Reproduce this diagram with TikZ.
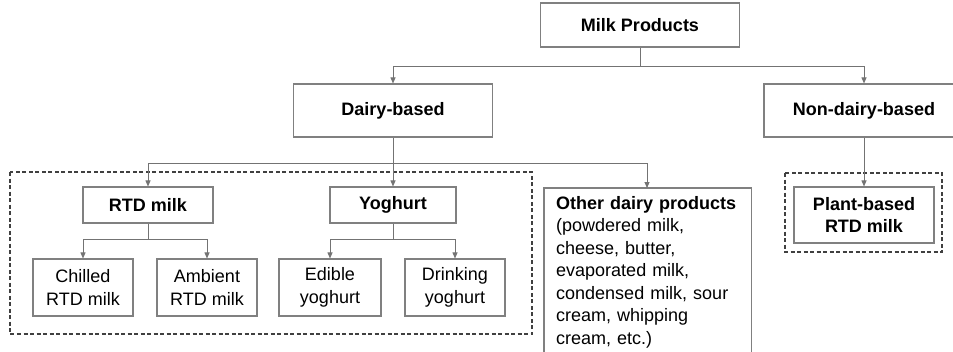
\documentclass[tikz,border=0pt]{standalone}
\usepackage{fontspec}
\setmainfont{Liberation Sans}
\usetikzlibrary{positioning,arrows.meta}

\begin{document}
\begin{tikzpicture}[
            x=1pt, y=-1pt,
            font=\fontsize{18}{22.5}\selectfont,
            frame/.style={draw=black!50,line width=1.1pt},
            box/.style={frame,align=center,inner sep=2pt},
            head box/.style={box,font=\fontsize{18}{22.5}\selectfont\bfseries},
            group/.style={draw=black!75,line width=1.2pt,dash pattern=on 4pt off 2.5pt},
            every edge/.style={draw,black!55,line width=0.9pt,-{Triangle[length=6pt,width=5pt]}},
        ]
            \useasboundingbox (0,0) rectangle (953,351);

            % top levels
            \node[head box, minimum width=199pt, minimum height=44pt] (milk) at (640,25) {Milk Products};
            \node[head box, minimum width=199pt, minimum height=53pt] (dairy) at (393,110.5) {Dairy-based};
            \node[head box, minimum width=200pt, minimum height=53pt] (nondairy) at (864,110.5) {Non-dairy-based};

            % dairy groups
            \node[head box, minimum width=130pt, minimum height=36pt] (rtd) at (148,205) {RTD milk};
            \node[head box, minimum width=126pt, minimum height=36pt] (yog) at (393,205) {Yoghurt};
            \node[anchor=north west, align=left, text width=183pt, inner xsep=12pt, inner ysep=8pt] (other) at (544,188)
                {\textbf{Other dairy products}\\(powdered milk,\\cheese, butter,\\evaporated milk,\\condensed milk, sour\\cream, whipping\\cream, etc.)};
            \draw[frame] (other.north west) rectangle ([yshift=-20pt]other.south east);

            \node[box, minimum width=100pt, minimum height=57pt] (chilled) at (83,287.5) {Chilled\\RTD milk};
            \node[box, minimum width=100pt, minimum height=57pt] (ambient) at (207,287.5) {Ambient\\RTD milk};
            \node[box, minimum width=102pt, minimum height=57pt] (edible) at (330,287.5) {Edible\\yoghurt};
            \node[box, minimum width=100pt, minimum height=57pt] (drinking) at (455,287.5) {Drinking\\yoghurt};

            \node[head box, minimum width=140pt, minimum height=56pt] (plant) at (864,215) {Plant-based\\RTD milk};

            % dashed groups
            \draw[group] (10,172) rectangle (532,334);
            \draw[group] (785,173) rectangle (942,252);

            % connectors
            \path (milk.south) ++(0,19) coordinate (m1);
            \path[draw,black!55,line width=0.9pt] (milk.south) -- (m1);
            \path (m1) edge[to path={-| (\tikztotarget)}] (dairy.north)
                  (m1) edge[to path={-| (\tikztotarget)}] (nondairy.north);

            \path (dairy.south) ++(0,26) coordinate (d1);
            \path (dairy.south) edge (yog.north)
                  (d1) edge[to path={-| (\tikztotarget)}] (rtd.north)
                  (d1) edge[to path={-| (\tikztotarget)}] ([xshift=103pt]other.north west);

            \path (rtd.south) ++(0,16) coordinate (r1);
            \path[draw,black!55,line width=0.9pt] (rtd.south) -- (r1);
            \path (r1) edge[to path={-| (\tikztotarget)}] (chilled.north)
                  (r1) edge[to path={-| (\tikztotarget)}] (ambient.north);

            \path (yog.south) ++(0,16) coordinate (y1);
            \path[draw,black!55,line width=0.9pt] (yog.south) -- (y1);
            \path (y1) edge[to path={-| (\tikztotarget)}] (edible.north)
                  (y1) edge[to path={-| (\tikztotarget)}] (drinking.north);

            \path (nondairy.south) edge (plant.north);
        \end{tikzpicture}
\end{document}
